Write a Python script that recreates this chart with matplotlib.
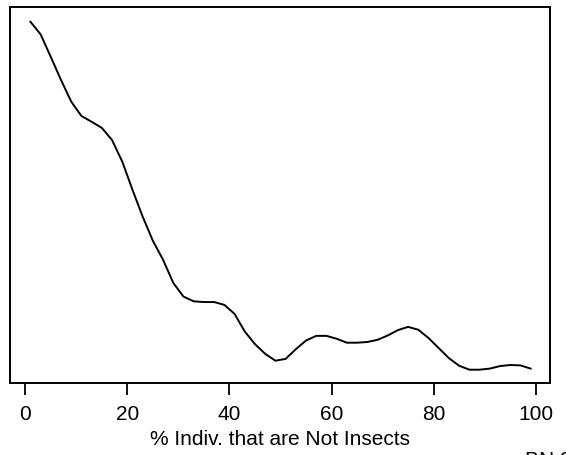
import numpy as np
import matplotlib.pyplot as plt

plt.rcParams['font.family'] = ['Liberation Sans', 'DejaVu Sans']

pct_not_insects = [1, 3, 5, 7, 9, 11, 13, 15, 17, 19, 21, 23, 25, 27, 29, 31, 33, 35, 37, 39,
                   41, 43, 45, 47, 49, 51, 53, 55, 57, 59, 61, 63, 65, 67, 69, 71, 73, 75, 77, 79,
                   81, 83, 85, 87, 89, 91, 93, 95, 97, 99]
density = [99.8, 96.3, 90.0, 83.6, 77.6, 73.6, 72.0, 70.3, 66.9, 60.9,
           53.1, 45.6, 38.9, 33.6, 27.2, 23.4, 22.1, 21.9, 21.9, 21.1,
           18.6, 13.7, 10.2, 7.5, 5.6, 6.1, 8.8, 11.2, 12.5, 12.5,
           11.7, 10.6, 10.6, 10.8, 11.4, 12.6, 14.1, 15.0, 14.2, 11.9,
           9.1, 6.3, 4.2, 3.1, 3.1, 3.4, 4.1, 4.4, 4.3, 3.4]
xticks = [0, 20, 40, 60, 80, 100]

W, H = 566, 455
fig = plt.figure(figsize=(W / 100, H / 100), dpi=100)
ax = fig.add_axes([10 / W, 1 - 383 / H, 540 / W, 376 / H])

ax.plot(pct_not_insects, density, color='black', lw=1.4)

ax.set_xlim(-3.0, 102.8)
ax.set_ylim(-0.6, 103.9)
ax.set_xticks(xticks)
ax.set_yticks([])
ax.tick_params(axis='x', direction='out', length=8.5, width=1.3, pad=7, labelsize=15)
for s in ax.spines.values():
    s.set_linewidth(1.4)

ax.set_xlabel("% Indiv. that are Not Insects", fontsize=15, labelpad=5)

fig.text(525 / W, 1 - 451 / H, "BN 9", fontsize=15, va='top', ha='left')

fig.savefig("out.png", dpi=100)
